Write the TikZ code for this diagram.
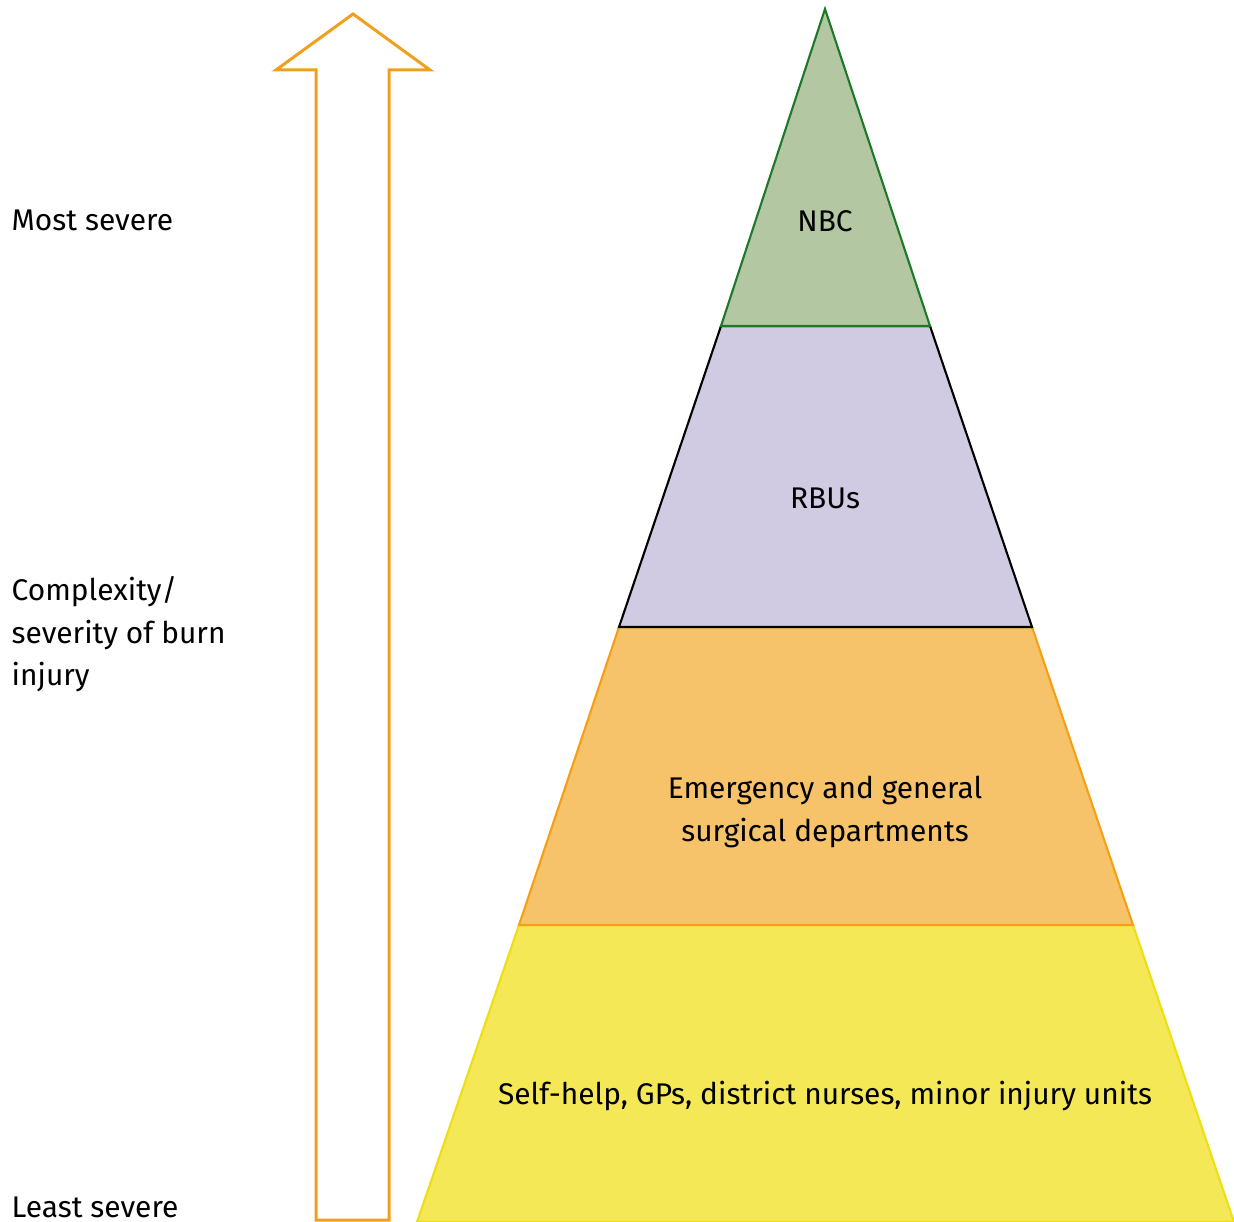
\documentclass[tikz,border=0pt]{standalone}
\usepackage{fontspec}
\setmainfont{Fira Sans}
\usetikzlibrary{positioning}

\definecolor{nbcfill}{RGB}{179,199,163}
\definecolor{nbcline}{RGB}{30,120,40}
\definecolor{rbufill}{RGB}{208,202,226}
\definecolor{edfill}{RGB}{247,195,106}
\definecolor{edline}{RGB}{245,160,20}
\definecolor{gpfill}{RGB}{244,232,87}
\definecolor{gpline}{RGB}{240,222,20}
\definecolor{arrowline}{RGB}{240,160,30}

\begin{document}
\begin{tikzpicture}[
    x=0.01cm, y=-0.01cm,
    label/.style={inner sep=0pt, font=\fontsize{8.5}{12.1}\selectfont},
    tier/.style={line width=0.6pt, line join=miter},
    bigarrow/.style={draw=arrowline, line width=0.85pt, line join=miter}
]
\useasboundingbox (0,0) rectangle (1234,1222);

% pyramid, bottom tier first
\draw[tier, fill=gpfill, draw=gpline] (417,1222) -- (519,925) -- (1133,925) -- (1234,1222) -- cycle;
\draw[tier, fill=edfill, draw=edline] (519,925) -- (619,627) -- (1032,627) -- (1133,925) -- cycle;
\draw[tier, fill=rbufill, draw=black] (619,627) -- (721,326) -- (930,326) -- (1032,627) -- cycle;
\draw[tier, fill=nbcfill, draw=nbcline] (721,326) -- (825,9) -- (930,326) -- cycle;

\node[label] (nbc) at (825,221) {NBC};
\node[label] (rbu) at (825,498) {RBUs};
\node[label, align=center] (ed) at (825,812) {Emergency and general\\surgical departments};
\node[label] (gp) at (825,1096) {Self-help, GPs, district nurses, minor injury units};

% severity arrow
\draw[bigarrow] (316,1220) -- (316,70) -- (276,70) -- (353,14) -- (430,70) -- (389,70) -- (389,1220) -- cycle;

\node[label, anchor=base west] (most) at (11,231) {Most severe};
\node[label, anchor=north west, align=left] (mid) at (11,576) {Complexity/\\severity of burn\\injury};
\node[label, anchor=base west] (least) at (11,1217) {Least severe};
\end{tikzpicture}
\end{document}
